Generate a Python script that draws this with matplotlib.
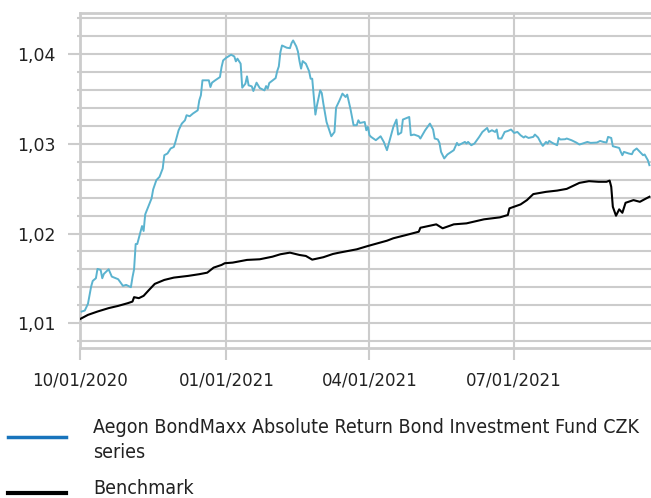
import matplotlib
matplotlib.use("Agg")
import matplotlib.pyplot as plt
from matplotlib.lines import Line2D
import numpy as np
import pandas as pd

# start of the series, other dates given as day offsets from it
start = pd.Timestamp("2020-10-01")

# Aegon BondMaxx fund (day offset, value)
fund_days = [1, 3, 5, 7, 8, 10, 11, 13, 14, 15, 18, 20, 24, 27, 29, 32, 33, 34, 35, 36,
             39, 40, 41, 45, 46, 48, 50, 52, 53, 55, 57, 59, 60, 62, 64, 66, 67, 69, 71, 74,
             75, 76, 77, 81, 82, 83, 85, 88, 89, 90, 92, 95, 97, 98, 99, 101, 102, 104, 105, 106,
             108, 109, 111, 113, 115, 116, 117, 118, 119, 123, 124, 125, 126, 127, 130, 132, 133, 134, 136, 137,
             138, 139, 140, 142, 144, 145, 146, 147, 148, 149, 151, 152, 153, 155, 158, 160, 161, 163, 165, 167,
             168, 170, 172, 174, 175, 176, 179, 180, 181, 182, 183, 186, 189, 191, 193, 197, 199, 200, 202, 203,
             207, 208, 210, 213, 214, 217, 220, 222, 223, 225, 226, 227, 229, 231, 235, 237, 238, 240, 242, 243,
             244, 246, 248, 251, 253, 256, 257, 259, 261, 262, 263, 265, 267, 269, 271, 273, 275, 277, 279, 280,
             282, 285, 286, 288, 290, 291, 293, 294, 295, 297, 300, 301, 302, 305, 306, 309, 312, 314, 316, 319,
             321, 325, 327, 329, 331, 332, 334, 335, 339, 340, 341, 342, 345, 347, 348, 350, 352, 354, 355, 357,
             358]
fund_values = [1.01131, 1.01142, 1.01217, 1.01409, 1.01472, 1.01502, 1.01606, 1.01594, 1.01502, 1.01550,
               1.01602, 1.01520, 1.01491, 1.01417, 1.01428, 1.01402, 1.01513, 1.01602, 1.01883, 1.01883,
               1.02083, 1.02028, 1.02213, 1.02391, 1.02491, 1.02594, 1.02631, 1.02724, 1.02872, 1.02891,
               1.02947, 1.02964, 1.03020, 1.03150, 1.03224, 1.03261, 1.03317, 1.03306, 1.03336, 1.03372,
               1.03483, 1.03539, 1.03706, 1.03706, 1.03631, 1.03680, 1.03706, 1.03742, 1.03853, 1.03928,
               1.03958, 1.03991, 1.03972, 1.03917, 1.03947, 1.03891, 1.03624, 1.03669, 1.03750, 1.03650,
               1.03639, 1.03587, 1.03680, 1.03620, 1.03602, 1.03594, 1.03642, 1.03613, 1.03676, 1.03731,
               1.03809, 1.03861, 1.04020, 1.04094, 1.04069, 1.04064, 1.04120, 1.04150, 1.04083, 1.04028,
               1.03920, 1.03836, 1.03920, 1.03891, 1.03809, 1.03724, 1.03724, 1.03520, 1.03324, 1.03428,
               1.03594, 1.03564, 1.03447, 1.03242, 1.03083, 1.03131, 1.03402, 1.03476, 1.03558, 1.03520,
               1.03547, 1.03391, 1.03206, 1.03206, 1.03261, 1.03231, 1.03242, 1.03150, 1.03187, 1.03094,
               1.03076, 1.03039, 1.03083, 1.03020, 1.02928, 1.03187, 1.03269, 1.03102, 1.03124, 1.03269,
               1.03298, 1.03094, 1.03102, 1.03083, 1.03058, 1.03150, 1.03224, 1.03158, 1.03058, 1.03047,
               1.03009, 1.02909, 1.02836, 1.02880, 1.02928, 1.03009, 1.02983, 1.03002, 1.03020, 1.03002,
               1.03020, 1.02983, 1.03002, 1.03076, 1.03131, 1.03176, 1.03131, 1.03150, 1.03131, 1.03158,
               1.03058, 1.03058, 1.03131, 1.03142, 1.03158, 1.03120, 1.03131, 1.03094, 1.03069, 1.03083,
               1.03064, 1.03076, 1.03102, 1.03069, 1.03002, 1.02976, 1.03020, 1.03002, 1.03031, 1.03009,
               1.02983, 1.03064, 1.03047, 1.03050, 1.03058, 1.03039, 1.03013, 1.02991, 1.03002, 1.03020,
               1.03009, 1.03013, 1.03031, 1.03020, 1.03013, 1.03076, 1.03064, 1.02972, 1.02953, 1.02909,
               1.02872, 1.02909, 1.02891, 1.02883, 1.02920, 1.02947, 1.02909, 1.02872, 1.02880, 1.02817,
               1.02761]

# Benchmark (day offset, value)
bench_days = [0, 5, 11, 18, 24, 30, 33, 34, 37, 40, 43, 47, 53, 59, 68, 75, 80, 84, 89, 91,
              96, 105, 113, 121, 126, 132, 138, 142, 146, 153, 159, 163, 174, 181, 193, 197, 205, 213, 214, 224,
              228, 235, 243, 254, 264, 269, 270, 277, 281, 285, 293, 300, 306, 314, 320, 326, 331, 333, 334, 335,
              337, 339, 341, 343, 348, 352, 356, 358]
bench_values = [1.01047, 1.01094, 1.01131, 1.01169, 1.01194, 1.01224, 1.01242, 1.01291, 1.01280, 1.01306,
                1.01364, 1.01439, 1.01483, 1.01509, 1.01528, 1.01547, 1.01564, 1.01620, 1.01650, 1.01669,
                1.01676, 1.01706, 1.01713, 1.01742, 1.01769, 1.01787, 1.01761, 1.01750, 1.01709, 1.01736,
                1.01772, 1.01787, 1.01824, 1.01861, 1.01920, 1.01947, 1.01983, 1.02020, 1.02064, 1.02102,
                1.02058, 1.02102, 1.02113, 1.02158, 1.02180, 1.02206, 1.02280, 1.02324, 1.02372, 1.02439,
                1.02464, 1.02478, 1.02497, 1.02564, 1.02583, 1.02576, 1.02576, 1.02589, 1.02520, 1.02298,
                1.02198, 1.02269, 1.02231, 1.02342, 1.02372, 1.02353, 1.02391, 1.02409]

x_ticks = ["2020-10-01", "2021-01-01", "2021-04-01", "2021-07-01"]
x_labels = ["10/01/2020", "01/01/2021", "04/01/2021", "07/01/2021"]
y_ticks = [1.01, 1.02, 1.03, 1.04]
y_labels = ["1,01", "1,02", "1,03", "1,04"]

fund_name = "Aegon BondMaxx Absolute Return Bond Investment Fund CZK\nseries"
bench_name = "Benchmark"

grid_col = "#cccccc"
fund_col = "#5bb3cf"
fund_legend_col = "#1874bc"

fund_dates = start + pd.to_timedelta(fund_days, unit="D")
bench_dates = start + pd.to_timedelta(bench_days, unit="D")

fig = plt.figure(figsize=(6.51, 4.98), dpi=100)
ax = fig.add_axes([80 / 651, 1 - 348 / 498, 1 - 80 / 651, (348 - 12.7) / 498])

ax.plot(fund_dates, fund_values, color=fund_col, lw=1.4, zorder=3)
ax.plot(bench_dates, bench_values, color="black", lw=1.5, zorder=3)

ax.set_xlim(start, start + pd.Timedelta(days=359))
ax.set_ylim(1.00725, 1.04459)

ax.set_yticks(y_ticks)
ax.set_yticklabels(y_labels)
ax.set_yticks(np.arange(1.008, 1.0446, 0.002), minor=True)
ax.set_xticks(pd.to_datetime(x_ticks))
ax.set_xticklabels(x_labels)

ax.grid(True, which="both", axis="y", color=grid_col, lw=1.5)
ax.grid(True, which="major", axis="x", color=grid_col, lw=1.5)
ax.set_axisbelow(True)

ax.tick_params(axis="y", which="major", length=8.6, width=1.5, color=grid_col,
               labelsize=12.5, labelcolor="#222222", pad=9)
ax.tick_params(axis="y", which="minor", length=2.2, width=1.5, color=grid_col)
ax.tick_params(axis="x", which="major", length=8.6, width=1.5, color=grid_col,
               labelsize=12, labelcolor="#222222", pad=8)

for side in ["left", "bottom", "top"]:
    ax.spines[side].set_color(grid_col)
    ax.spines[side].set_linewidth(2)
ax.spines["right"].set_visible(False)

# legend below the plot, narrow face if there is one
leg_kw = dict(family="DejaVu Sans", stretch="condensed", color="#222222",
              va="center", ha="left")
fig.add_artist(Line2D([8 / 651, 66 / 651], [1 - 437 / 498] * 2, color=fund_legend_col, lw=2.5))
t1 = fig.text(93 / 651, 1 - 440 / 498, fund_name, fontsize=14, linespacing=1.35, **leg_kw)
fig.add_artist(Line2D([8 / 651, 66 / 651], [1 - 493 / 498] * 2, color="black", lw=3))
t2 = fig.text(93 / 651, 1 - 488 / 498, bench_name, fontsize=14, **leg_kw)

# shrink legend text so the long name ends where it does in the reference (~547 px wide)
fig.canvas.draw()
w = t1.get_window_extent().width
size = 14 * 547 / w
t1.set_fontsize(size)
t2.set_fontsize(size)

fig.savefig("out.png", dpi=100)
